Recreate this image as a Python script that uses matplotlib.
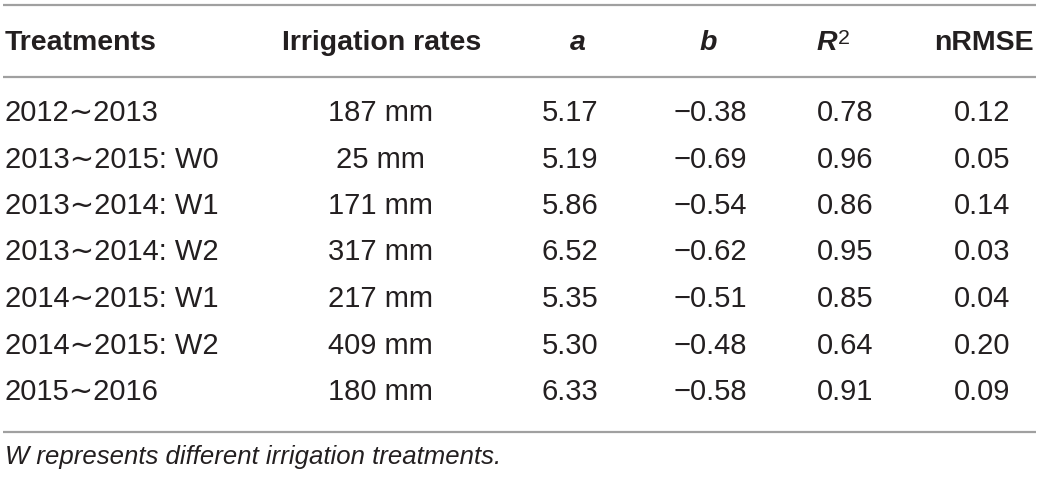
import matplotlib.pyplot as plt

# table content
headers = ["Treatments", "Irrigation rates", "a", "b", "R", "nRMSE"]
treatments = ["2012\u223c2013", "2013\u223c2015: W0", "2013\u223c2014: W1", "2013\u223c2014: W2",
              "2014\u223c2015: W1", "2014\u223c2015: W2", "2015\u223c2016"]
irrigation = ["187 mm", "25 mm", "171 mm", "317 mm", "217 mm", "409 mm", "180 mm"]
a_vals = ["5.17", "5.19", "5.86", "6.52", "5.35", "5.30", "6.33"]
b_vals = ["\u22120.38", "\u22120.69", "\u22120.54", "\u22120.62", "\u22120.51", "\u22120.48", "\u22120.58"]
r2_vals = ["0.78", "0.96", "0.86", "0.95", "0.85", "0.64", "0.91"]
nrmse_vals = ["0.12", "0.05", "0.14", "0.03", "0.04", "0.20", "0.09"]
footnote = "W represents different irrigation treatments."

fam = ["Liberation Sans", "DejaVu Sans"]
txt_col = "#231f20"
line_col = "#a0a0a0"
fs = 21
hfs = 20.5

fig = plt.figure(figsize=(10.39, 4.8), dpi=100)
ax = fig.add_axes([0, 0, 1, 1])
ax.set_xlim(0, 1039)
ax.set_ylim(480, 0)
ax.axis("off")

# horizontal rules
for y in [5, 77, 432]:
    ax.plot([3, 1036], [y, y], color=line_col, lw=1.6, solid_capstyle="butt")

# header
hy = 43
hkw = dict(va="center", fontsize=hfs, fontweight="bold", family=fam, color=txt_col)
ax.text(5, hy, headers[0], ha="left", **hkw)
ax.text(382, hy, headers[1], ha="center", **hkw)
ax.text(578, hy, headers[2], ha="center", style="italic", **hkw)
ax.text(708, hy, headers[3], ha="center", style="italic", **hkw)
ax.text(837, hy, headers[4], ha="right", style="italic", **hkw)
ax.text(838, hy - 5, "2", ha="left", va="center", fontsize=hfs * 0.75, family=fam, color=txt_col)
ax.text(1034, hy, headers[5], ha="right", **hkw)

# rows
row_y = [113 + 46.5 * i for i in range(len(treatments))]
for i, y in enumerate(row_y):
    kw = dict(va="center", fontsize=fs, family=fam, color=txt_col)
    ax.text(5, y, treatments[i], ha="left", **kw)
    ax.text(380, y, irrigation[i], ha="center", **kw)
    ax.text(570, y, a_vals[i], ha="center", **kw)
    ax.text(710, y, b_vals[i], ha="center", **kw)
    ax.text(845, y, r2_vals[i], ha="center", **kw)
    ax.text(1010, y, nrmse_vals[i], ha="right", **kw)

ax.text(5, 457, footnote, ha="left", va="center", fontsize=18.5, style="italic", family=fam, color=txt_col)

fig.savefig("out.png", dpi=100)
